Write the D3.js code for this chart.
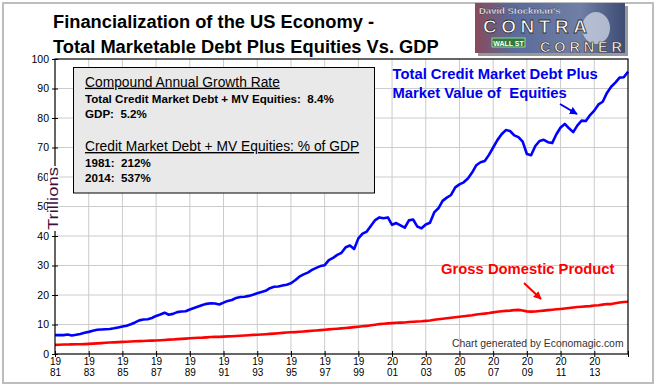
<!DOCTYPE html>
<html><head><meta charset="utf-8">
<script src="https://cdn.jsdelivr.net/npm/d3@7"></script>
<style>
html,body{margin:0;padding:0;background:#fff;}
svg{display:block;font-family:"Liberation Sans",Arial,sans-serif;}
text{white-space:pre;}
</style></head>
<body><svg id="c" width="656" height="391"></svg>
<script>
// ---- data (quarterly, 1981Q1 .. 2015Q1), trillions of dollars ----
const startYear = 1981;
const creditPlusEquities = [
  6.4, 6.4, 6.4, 6.6,   6.3, 6.5, 6.8, 7.2,   7.5, 7.9, 8.2, 8.3,   8.4, 8.5, 8.7, 9.0,
  9.3, 9.6, 10.1, 10.7, 11.4, 11.7, 11.8, 12.2, 12.9, 13.4, 14.0, 13.3, 13.6, 14.2, 14.4, 14.5,
  15.1, 15.6, 16.1, 16.6, 17.0, 17.2, 17.1, 16.8, 17.4, 18.0, 18.3, 19.0, 19.3, 19.4, 19.7, 20.1,
  20.6, 21.0, 21.4, 22.3, 22.8, 22.9, 23.2, 23.5, 24.0, 25.0, 26.2, 27.0, 27.6, 28.5, 29.2, 29.8,
  30.1, 31.8, 32.6, 33.6, 34.3, 36.2, 36.8, 35.6, 39.2, 40.8, 41.5, 43.5, 45.4, 46.3, 46.0, 46.3,
  43.8, 44.4, 43.6, 42.8, 45.3, 45.6, 43.2, 42.6, 43.9, 44.5, 48.0, 49.4, 51.9, 53.0, 53.9, 56.5,
  57.5, 58.2, 59.5, 61.5, 64.0, 65.0, 65.4, 67.5, 70.0, 72.5, 74.5, 75.9, 75.6, 74.1, 73.5, 72.0,
  67.8, 67.4, 70.5, 72.2, 72.6, 71.8, 71.5, 74.5, 76.8, 78.0, 76.5, 75.2, 77.5, 79.1, 79.0, 81.0,
  82.5, 84.6, 85.5, 88.5, 90.6, 92.0, 93.7, 93.8, 95.7
];
const gdp = [
  3.10, 3.14, 3.20, 3.23, 3.25, 3.29, 3.32, 3.36, 3.43, 3.51, 3.60, 3.69, 3.79, 3.88, 3.95, 4.01,
  4.10, 4.17, 4.25, 4.31, 4.37, 4.42, 4.48, 4.53, 4.60, 4.68, 4.76, 4.86, 4.94, 5.04, 5.13, 5.22,
  5.32, 5.41, 5.49, 5.55, 5.65, 5.74, 5.80, 5.82, 5.88, 5.96, 6.03, 6.10, 6.19, 6.28, 6.36, 6.47,
  6.53, 6.62, 6.71, 6.83, 6.92, 7.04, 7.15, 7.28, 7.35, 7.42, 7.52, 7.63, 7.74, 7.86, 7.97, 8.10,
  8.22, 8.35, 8.47, 8.58, 8.70, 8.81, 8.94, 9.10, 9.25, 9.38, 9.52, 9.72, 9.92, 10.14, 10.25, 10.37,
  10.46, 10.58, 10.62, 10.68, 10.82, 10.93, 11.04, 11.11, 11.24, 11.38, 11.60, 11.79, 11.94, 12.12, 12.30, 12.46,
  12.65, 12.80, 12.98, 13.14, 13.38, 13.55, 13.70, 13.88, 14.10, 14.30, 14.48, 14.62, 14.70, 14.86, 14.96, 14.72,
  14.45, 14.36, 14.42, 14.56, 14.70, 14.86, 15.00, 15.15, 15.28, 15.44, 15.58, 15.74, 15.92, 16.04, 16.14, 16.24,
  16.42, 16.54, 16.74, 16.96, 16.92, 17.20, 17.44, 17.62, 17.70
];
const yTicks = [0, 10, 20, 30, 40, 50, 60, 70, 80, 90, 100];
const xTickYears = [1981, 1983, 1985, 1987, 1989, 1991, 1993, 1995, 1997, 1999, 2001, 2003, 2005, 2007, 2009, 2011, 2013, 2015];
const titleLines = ["Financialization of the US Economy -", "Total Marketable Debt Plus Equities Vs. GDP"];
const boxLines = [
  {t: "Compound Annual Growth Rate", head: true},
  {t: "Total Credit Market Debt + MV Equities:  8.4%"},
  {t: "GDP:  5.2%"},
  {t: "Credit Market Debt + MV Equities: % of GDP", head: true},
  {t: "1981:  212%"},
  {t: "2014:  537%"}
];

// ---- layout ----
const svg = d3.select("#c");
const L = 55, R = 628, T = 59, B = 354;
const x = d3.scaleLinear().domain([1981, 2015]).range([L, R]);
const y = d3.scaleLinear().domain([0, 100]).range([B, T]);
const tOf = i => startYear + i / 4;

// outer border
svg.append("rect").attr("x", 3).attr("y", 3).attr("width", 650).attr("height", 380)
  .attr("fill", "#fff").attr("stroke", "#bdbdbd").attr("stroke-width", 2);

// gridlines
const grid = svg.append("g");
grid.selectAll("line.v").data(xTickYears.filter(d => d > 1981 && d < 2015)).join("line")
  .attr("x1", d => x(d)).attr("x2", d => x(d)).attr("y1", T).attr("y2", B)
  .attr("stroke", "#cccccc").attr("stroke-width", 1);
grid.selectAll("line.h").data(yTicks.filter(d => d > 0 && d < 100)).join("line")
  .attr("x1", L).attr("x2", R).attr("y1", d => y(d)).attr("y2", d => y(d))
  .attr("stroke", "#cccccc").attr("stroke-width", 1);

// text box
const box = svg.append("g");
box.append("rect").attr("x", 73.5).attr("y", 67.5).attr("width", 301).attr("height", 125.5)
  .attr("fill", "#e9e9e9").attr("stroke", "#000").attr("stroke-width", 1);
const boxY = [86.7, 102.7, 118.3, 151, 166.7, 182.3];
box.selectAll("text").data(boxLines).join("text")
  .attr("x", 85).attr("y", (d, i) => boxY[i])
  .attr("font-size", d => d.head ? 13.8 : 11.6)
  .attr("font-weight", d => d.head ? "normal" : "bold")
  .attr("text-decoration", d => d.head ? "underline" : null)
  .attr("fill", "#000").text(d => d.t);

// lines
const line = d3.line().x((d, i) => x(tOf(i))).y(d => y(d));
svg.append("path").datum(gdp).attr("d", line).attr("fill", "none")
  .attr("stroke", "#ff0000").attr("stroke-width", 2.6).attr("stroke-linejoin", "round");
svg.append("path").datum(creditPlusEquities).attr("d", line).attr("fill", "none")
  .attr("stroke", "#0000ff").attr("stroke-width", 2.6).attr("stroke-linejoin", "round");

// frame
svg.append("rect").attr("x", L).attr("y", T).attr("width", R - L).attr("height", B - T)
  .attr("fill", "none").attr("stroke", "#000").attr("stroke-width", 1.2);

// axes
const yAxis = svg.append("g").attr("transform", `translate(${L},0)`)
  .call(d3.axisLeft(y).tickValues(yTicks).tickSize(3).tickPadding(4));
yAxis.select(".domain").remove();
yAxis.selectAll(".tick line").attr("x1", -3).attr("x2", 3).attr("stroke", "#000");
yAxis.selectAll(".tick text").attr("font-size", 10.5).attr("font-family", "Liberation Sans, Arial, sans-serif")
  .attr("fill", "#000").attr("x", -6);

const xAxis = svg.append("g").attr("transform", `translate(0,${B})`)
  .call(d3.axisBottom(x).tickValues(xTickYears).tickSize(3).tickFormat(""));
xAxis.select(".domain").remove();
xAxis.selectAll(".tick line").attr("y1", -3).attr("y2", 3).attr("stroke", "#000");
const labelTicks = xAxis.selectAll(".tick").filter(d => d < 2015);
labelTicks.append("text")
  .attr("text-anchor", "middle").attr("font-size", 10).attr("fill", "#000")
  .attr("font-family", "Liberation Sans, Arial, sans-serif")
  .attr("x", 0).attr("y", 11).text(d => String(d).slice(0, 2));
labelTicks.append("text")
  .attr("text-anchor", "middle").attr("font-size", 10).attr("fill", "#000")
  .attr("font-family", "Liberation Sans, Arial, sans-serif")
  .attr("x", 0).attr("y", 22).text(d => String(d).slice(2));

// y axis title with white background
svg.append("rect").attr("x", 48).attr("y", 166).attr("width", 11).attr("height", 65).attr("fill", "#fff");
svg.append("text").attr("transform", "translate(57.5,198.5) rotate(-90)")
  .attr("text-anchor", "middle").attr("font-size", 14).attr("fill", "#3f0f3a")
  .attr("textLength", 63).attr("lengthAdjust", "spacingAndGlyphs").text("Trillions");

// titles
svg.selectAll("text.title").data(titleLines).join("text").attr("class", "title")
  .attr("x", 53).attr("y", (d, i) => i === 0 ? 28 : 53)
  .attr("font-size", 18.3).attr("font-weight", "bold").attr("fill", "#000").text(d => d);

// annotations
const ann = svg.append("g").attr("font-weight", "bold").attr("font-size", 14.8);
ann.append("text").attr("x", 392.5).attr("y", 79).attr("fill", "#0000ee").text("Total Credit Market Debt Plus");
ann.append("text").attr("x", 392.5).attr("y", 98.3).attr("fill", "#0000ee").text("Market Value of  Equities");
ann.append("text").attr("x", 441).attr("y", 273.5).attr("fill", "#ff0000").text("Gross Domestic Product");

const defs = svg.append("defs");
[["ab", "#0000ee"], ["ar", "#ff0000"]].forEach(([id, c]) => {
  defs.append("marker").attr("id", id).attr("viewBox", "0 0 10 10").attr("refX", 9).attr("refY", 5)
    .attr("markerWidth", 4).attr("markerHeight", 4).attr("orient", "auto")
    .append("path").attr("d", "M0,0 L10,5 L0,10 z").attr("fill", c);
});
svg.append("line").attr("x1", 560).attr("y1", 104).attr("x2", 577).attr("y2", 114)
  .attr("stroke", "#0000ee").attr("stroke-width", 2).attr("marker-end", "url(#ab)");
svg.append("line").attr("x1", 524).attr("y1", 283).attr("x2", 541).attr("y2", 299)
  .attr("stroke", "#ff0000").attr("stroke-width", 2).attr("marker-end", "url(#ar)");

// credit
svg.append("text").attr("x", 452).attr("y", 347.3).attr("font-size", 10.4).attr("fill", "#333")
  .text("Chart generated by Economagic.com");

// logo (approximation)
const logo = svg.append("g");
const lg = defs.append("linearGradient").attr("id", "lg").attr("x1", 0).attr("x2", 1).attr("y1", 0).attr("y2", 0);
lg.append("stop").attr("offset", 0).attr("stop-color", "#8a4a5a");
lg.append("stop").attr("offset", 0.25).attr("stop-color", "#5a6a9a");
lg.append("stop").attr("offset", 0.7).attr("stop-color", "#6f7fa5");
lg.append("stop").attr("offset", 1).attr("stop-color", "#3c4c74");
logo.append("rect").attr("x", 478).attr("y", 6).attr("width", 150).attr("height", 50).attr("fill", "#999");
logo.append("rect").attr("x", 475).attr("y", 3).attr("width", 150).attr("height", 50).attr("fill", "url(#lg)");
logo.append("ellipse").attr("cx", 596).attr("cy", 28).attr("rx", 14).attr("ry", 16).attr("fill", "#c8cfe0").attr("opacity", 0.8);
logo.append("text").attr("x", 479).attr("y", 13.5).attr("font-size", 9.5).attr("font-weight", "bold")
  .attr("fill", "#fff").attr("stroke", "#223").attr("stroke-width", 0.3).text("David Stockman's");
logo.append("text").attr("x", 483).attr("y", 33).attr("font-size", 19).attr("font-weight", "bold")
  .attr("fill", "#fff").attr("stroke", "#333").attr("stroke-width", 0.8).attr("textLength", 104).text("CONTRA");
logo.append("rect").attr("x", 492).attr("y", 38).attr("width", 33).attr("height", 9).attr("fill", "#2f7a3a").attr("stroke", "#dfe").attr("stroke-width", 0.6);
logo.append("text").attr("x", 508.5).attr("y", 45.5).attr("text-anchor", "middle").attr("font-size", 7).attr("font-weight", "bold").attr("fill", "#fff").text("WALL ST");
logo.append("text").attr("x", 540).attr("y", 51.5).attr("font-size", 14.5).attr("font-weight", "bold")
  .attr("fill", "#fff").attr("stroke", "#333").attr("stroke-width", 0.7).attr("textLength", 82).text("CORNER");
</script></body></html>
